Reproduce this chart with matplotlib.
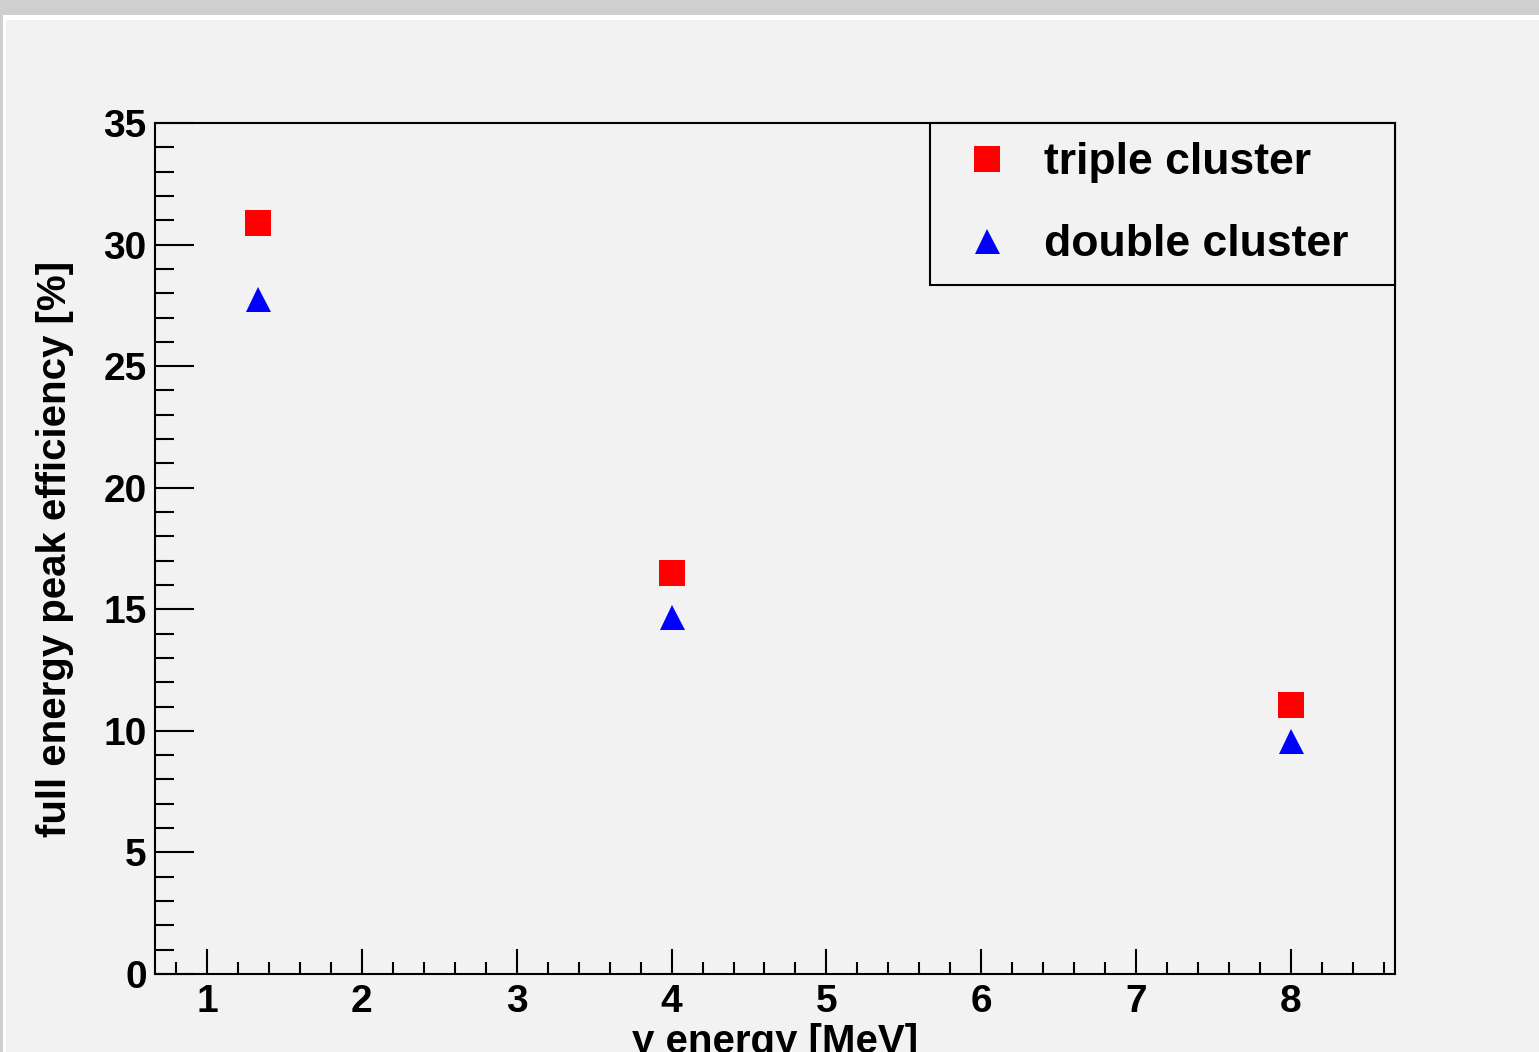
import matplotlib
matplotlib.use("Agg")
import matplotlib.pyplot as plt
from matplotlib.patches import Rectangle
from matplotlib.ticker import MultipleLocator

# dados
energia = [1.33, 4.0, 8.0]
triple = [30.9, 16.5, 11.07]
double = [27.75, 14.7, 9.6]

FUNDO = "#f2f2f2"
plt.rcParams['font.family'] = ['Liberation Sans', 'DejaVu Sans']
plt.rcParams['font.weight'] = 'bold'

fig = plt.figure(figsize=(15.39, 10.52), dpi=100, facecolor=FUNDO)

# moldura cinza no topo e à esquerda
fig.patches.append(Rectangle((0, 1 - 15 / 1052), 1, 15 / 1052, transform=fig.transFigure,
                             facecolor="#cfcfcf", edgecolor="none", zorder=0))
fig.patches.append(Rectangle((0, 1 - 20 / 1052), 1, 5 / 1052, transform=fig.transFigure,
                             facecolor="white", edgecolor="none", zorder=0))
fig.patches.append(Rectangle((0, 0), 3 / 1539, 1 - 15 / 1052, transform=fig.transFigure,
                             facecolor="#cfcfcf", edgecolor="none", zorder=0))
fig.patches.append(Rectangle((3 / 1539, 0), 3 / 1539, 1 - 20 / 1052, transform=fig.transFigure,
                             facecolor="white", edgecolor="none", zorder=0))

ax = fig.add_axes([155 / 1539, 1 - 974 / 1052, 1240 / 1539, 851 / 1052])
ax.set_facecolor(FUNDO)

ax.plot(energia, triple, linestyle="none", marker="s", markersize=19,
        color="#ff0000", markeredgewidth=0, label="triple cluster")
ax.plot(energia, double, linestyle="none", marker="^", markersize=18,
        color="#0000ff", markeredgewidth=0, label="double cluster")

ax.set_xlim(0.664, 8.672)
ax.set_ylim(0, 35)

ax.xaxis.set_major_locator(MultipleLocator(1))
ax.xaxis.set_minor_locator(MultipleLocator(0.2))
ax.yaxis.set_major_locator(MultipleLocator(5))
ax.yaxis.set_minor_locator(MultipleLocator(1))

for s in ax.spines.values():
    s.set_linewidth(1.5)

ax.tick_params(axis="x", which="major", direction="in", length=18, width=1.5,
               labelsize=28, pad=7, top=False)
ax.tick_params(axis="x", which="minor", direction="in", length=9, width=1.5, top=False)
ax.tick_params(axis="y", which="major", direction="in", length=28, width=1.5,
               labelsize=28, pad=6, right=False)
ax.tick_params(axis="y", which="minor", direction="in", length=14, width=1.5, right=False)

ax.set_xlabel("γ energy [MeV]", fontsize=29, fontweight="bold")
ax.xaxis.set_label_coords(0.5, -0.057)
ax.xaxis.label.set_va("top")
ax.set_ylabel("full energy peak efficiency [%]", fontsize=29, fontweight="bold")
ax.yaxis.set_label_coords(-0.0806, 0.5)
ax.yaxis.label.set_va("center")

leg = ax.legend(loc="upper left", bbox_to_anchor=(0.625, 0.812, 0.375, 0.188),
                mode="expand", borderaxespad=0, fontsize=32, fancybox=False,
                framealpha=1, facecolor=FUNDO, edgecolor="black",
                handlelength=1.7, handletextpad=0.44, borderpad=0.43, labelspacing=0.93,
                numpoints=1)
leg.get_frame().set_linewidth(1.5)
for t in leg.get_texts():
    t.set_fontweight("bold")

fig.savefig("out.png", dpi=100, facecolor=FUNDO)
